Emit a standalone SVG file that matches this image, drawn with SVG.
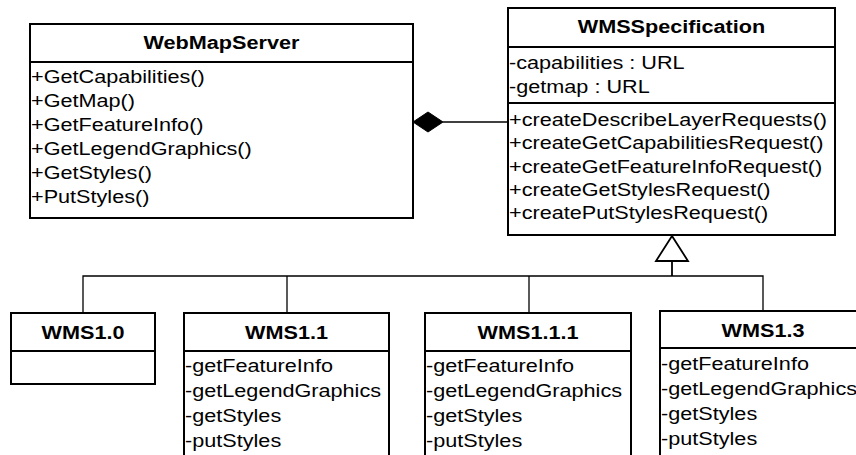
<svg xmlns="http://www.w3.org/2000/svg" width="856" height="455" viewBox="0 0 856 455">
<style>
.box{fill:#fff;stroke:#000;stroke-width:2}
.div{stroke:#000;stroke-width:2}
.t{font-family:"Liberation Sans",Arial,sans-serif;font-size:18.5px;fill:#000}
.b{font-weight:bold;text-anchor:middle}
.c{fill:none;stroke:#000;stroke-width:1.3}
</style>
<rect width="856" height="455" fill="#fff"/>
<g id="connectors">
<polygon points="413,122 428,112 443,122 428,132" fill="#000" stroke="#000" stroke-width="1"/>
<line class="c" x1="443" y1="122" x2="508" y2="122"/>
<polyline class="c" points="83,313 83,276 763,276 763,311"/>
<line class="c" x1="287" y1="276" x2="287" y2="313"/>
<line class="c" x1="529" y1="276" x2="529" y2="313"/>
<line class="c" x1="672" y1="261" x2="672" y2="276" style="stroke-width:1.8"/>
<polygon points="672,236 656,261 688,261" fill="#fff" stroke="#000" stroke-width="1.8"/>
</g>
<g id="WebMapServer">
<rect class="box" x="30" y="24" width="383" height="194"/>
<line class="div" x1="30" y1="62" x2="413" y2="62"/>
<text class="t b" transform="translate(221.5,49) scale(1.17,1)">WebMapServer</text>
<text class="t" transform="translate(31,83) scale(1.17,1)">+GetCapabilities()</text>
<text class="t" transform="translate(31,107) scale(1.17,1)">+GetMap()</text>
<text class="t" transform="translate(31,131) scale(1.17,1)">+GetFeatureInfo()</text>
<text class="t" transform="translate(31,155) scale(1.17,1)">+GetLegendGraphics()</text>
<text class="t" transform="translate(31,179) scale(1.17,1)">+GetStyles()</text>
<text class="t" transform="translate(31,203) scale(1.17,1)">+PutStyles()</text>
</g>
<g id="WMSSpecification">
<rect class="box" x="508" y="8" width="327" height="227"/>
<line class="div" x1="508" y1="47" x2="835" y2="47"/>
<line class="div" x1="508" y1="103" x2="835" y2="103"/>
<text class="t b" transform="translate(671.5,33) scale(1.17,1)">WMSSpecification</text>
<text class="t" transform="translate(509,68.5) scale(1.17,1)">-capabilities : URL</text>
<text class="t" transform="translate(509,93) scale(1.17,1)">-getmap : URL</text>
<text class="t" transform="translate(509,126) scale(1.17,1)">+createDescribeLayerRequests()</text>
<text class="t" transform="translate(509,149.3) scale(1.17,1)">+createGetCapabilitiesRequest()</text>
<text class="t" transform="translate(509,172.6) scale(1.17,1)">+createGetFeatureInfoRequest()</text>
<text class="t" transform="translate(509,195.9) scale(1.17,1)">+createGetStylesRequest()</text>
<text class="t" transform="translate(509,219.2) scale(1.17,1)">+createPutStylesRequest()</text>
</g>
<g id="WMS1.0">
<rect class="box" x="11" y="313" width="144" height="71"/>
<line class="div" x1="11" y1="351" x2="155" y2="351"/>
<text class="t b" transform="translate(83,339) scale(1.17,1)">WMS1.0</text>
</g>
<g id="WMS1.1">
<rect class="box" x="184" y="313" width="205" height="160"/>
<line class="div" x1="184" y1="351" x2="389" y2="351"/>
<text class="t b" transform="translate(286.5,339) scale(1.17,1)">WMS1.1</text>
<text class="t" transform="translate(185,372) scale(1.17,1)">-getFeatureInfo</text>
<text class="t" transform="translate(185,397) scale(1.17,1)">-getLegendGraphics</text>
<text class="t" transform="translate(185,422) scale(1.17,1)">-getStyles</text>
<text class="t" transform="translate(185,447) scale(1.17,1)">-putStyles</text>
</g>
<g id="WMS1.1.1">
<rect class="box" x="425" y="313" width="206" height="160"/>
<line class="div" x1="425" y1="351" x2="631" y2="351"/>
<text class="t b" transform="translate(528,339) scale(1.17,1)">WMS1.1.1</text>
<text class="t" transform="translate(426,372) scale(1.17,1)">-getFeatureInfo</text>
<text class="t" transform="translate(426,397) scale(1.17,1)">-getLegendGraphics</text>
<text class="t" transform="translate(426,422) scale(1.17,1)">-getStyles</text>
<text class="t" transform="translate(426,447) scale(1.17,1)">-putStyles</text>
</g>
<g id="WMS1.3">
<rect class="box" x="660" y="311" width="206" height="160"/>
<line class="div" x1="660" y1="348" x2="866" y2="348"/>
<text class="t b" transform="translate(763,337) scale(1.17,1)">WMS1.3</text>
<text class="t" transform="translate(661,370) scale(1.17,1)">-getFeatureInfo</text>
<text class="t" transform="translate(661,395) scale(1.17,1)">-getLegendGraphics</text>
<text class="t" transform="translate(661,420) scale(1.17,1)">-getStyles</text>
<text class="t" transform="translate(661,445) scale(1.17,1)">-putStyles</text>
</g>
</svg>
